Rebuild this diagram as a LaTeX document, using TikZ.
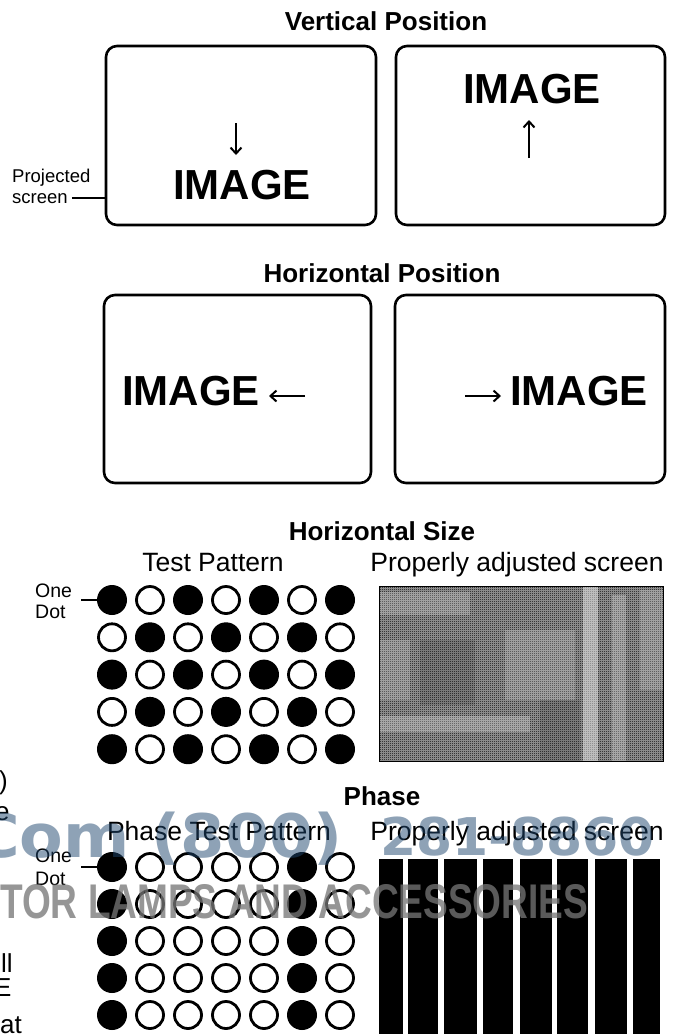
\documentclass[tikz,border=0pt]{standalone}
\usepackage{fontspec}
\setmainfont{Liberation Sans}
\newfontfamily\wmfont{DejaVu Sans}
\usetikzlibrary{arrows.meta,patterns}
\definecolor{wmblue}{RGB}{30,70,110}
\definecolor{wmgray}{RGB}{118,118,118}
\pgfdeclarepatternformonly{dither}{\pgfqpoint{0pt}{0pt}}{\pgfqpoint{2pt}{2pt}}{\pgfqpoint{2pt}{2pt}}{%
  \pgfpathrectangle{\pgfqpoint{0pt}{0pt}}{\pgfqpoint{1pt}{1pt}}%
  \pgfpathrectangle{\pgfqpoint{1pt}{1pt}}{\pgfqpoint{1pt}{1pt}}%
  \pgfusepath{fill}}
\begin{document}
\begin{tikzpicture}[x=1pt,y=-1pt,
  title/.style={font=\fontsize{26}{30}\selectfont\bfseries, anchor=base, inner sep=0pt},
  sub/.style={font=\fontsize{26.5}{30}\selectfont, anchor=base, inner sep=0pt},
  lbl/.style={font=\fontsize{19.5}{22}\selectfont, anchor=base west, inner sep=0pt},
  plbl/.style={font=\fontsize{18.5}{21}\selectfont, anchor=base west, inner sep=0pt},
  img/.style={font=\fontsize{42}{46}\selectfont\bfseries, inner sep=0pt},
  screenbox/.style={draw, line width=2.6pt, rounded corners=11pt, inner sep=0pt},
  varrow/.style={line width=2pt, -{Straight Barb[length=6pt,width=11pt,line width=2pt]}},
  leader/.style={line width=1.3pt},
  dot0/.style={circle, fill=black, minimum size=30pt, inner sep=0pt},
  dot1/.style={circle, draw=black, fill=white, line width=2.8pt, minimum size=27pt, inner sep=0pt},
  frag/.style={font=\fontsize{26}{30}\selectfont, anchor=base west, inner sep=0pt},
  wm/.style={inner sep=0pt, text=wmblue, text opacity=0.5, font=\wmfont\bfseries},
]
\useasboundingbox (0,0) rectangle (679,1034);

% ---------- Vertical Position ----------
\node[title] (tvp) at (386,30) {Vertical Position};
\node[screenbox, minimum width=270pt, minimum height=179pt] (vb1) at (241,135.5) {};
\node[screenbox, minimum width=269pt, minimum height=179pt] (vb2) at (530.5,135.5) {};
\node[img, anchor=base] (vi1) at (242,199) {IMAGE};
\coordinate (va1s) at (236,123);
\coordinate (va1e) at (236,155);
\draw[varrow] (va1s) -- (va1e);
\node[img, anchor=base] (vi2) at (532,103) {IMAGE};
\coordinate (va2s) at (529,158);
\coordinate (va2e) at (529,120);
\draw[varrow] (va2s) -- (va2e);
\node[plbl] (proj) at (12,182) {Projected};
\node[plbl] (scr) at (12,203) {screen};
\coordinate (scrend) at ([xshift=4pt,yshift=5pt]scr.base east);
\draw[leader] (scrend) -- (scrend -| vb1.west);

% ---------- Horizontal Position ----------
\node[title] (thp) at (382,282) {Horizontal Position};
\node[screenbox, minimum width=267pt, minimum height=188pt] (hb1) at (237.5,389) {};
\node[screenbox, minimum width=270pt, minimum height=188pt] (hb2) at (530,389) {};
\node[img, anchor=base west] (hi1) at (122,405) {IMAGE};
\coordinate (ha1s) at (305,396);
\coordinate (ha1e) at (269,396);
\draw[varrow] (ha1s) -- (ha1e);
\node[img, anchor=base west] (hi2) at (510,405) {IMAGE};
\coordinate (ha2s) at (465,396);
\coordinate (ha2e) at (501,396);
\draw[varrow] (ha2s) -- (ha2e);

% ---------- Horizontal Size ----------
\node[title] (ths) at (382,540) {Horizontal Size};
\node[sub] (tp1) at (213,571) {Test Pattern};
\node[sub] (pa1) at (517,571) {Properly adjusted screen};
\node[lbl] (one1) at (35,597) {One};
\node[lbl] (dot1l) at (35,618) {Dot};
\foreach \r in {0,...,4} {
  \foreach \c in {0,...,6} {
    \pgfmathtruncatemacro\pp{mod(\r+\c,2)}
    \node[dot\pp] (hs-\r-\c) at (112+38*\c, 600+37.3*\r) {};
  }
}
\coordinate (hsl) at (81,600);
\draw[leader] (hsl) -- (hs-0-0);
% gray screen (dithered)
\node[inner sep=0pt, minimum width=283pt, minimum height=174pt] (gscr) at (521.5,674) {};
\fill[black!38] (gscr.north west) rectangle (gscr.south east);
\fill[pattern=dither, pattern color=black] (gscr.north west) rectangle (gscr.south east);
\fill[white, opacity=0.45] (583,587) rectangle (598,761);
\fill[white, opacity=0.25] (612,595) rectangle (626,761);
\fill[white, opacity=0.25] (380,716) rectangle (530,732);
\fill[white, opacity=0.2] (380,592) rectangle (470,615);
\fill[white, opacity=0.18] (505,630) rectangle (575,700);
\fill[white, opacity=0.2] (640,590) rectangle (663,690);
\fill[white, opacity=0.18] (380,640) rectangle (410,700);
\fill[black, opacity=0.12] (420,640) rectangle (475,705);
\fill[black, opacity=0.12] (540,700) rectangle (580,761);
\draw[line width=1.2pt] (gscr.north west) rectangle (gscr.south east);

% ---------- Phase ----------
\node[title] (tph) at (382,805) {Phase};
\node[sub] (tp2) at (219,840) {Phase Test Pattern};
\node[sub] (pa2) at (517,840) {Properly adjusted screen};
\node[lbl] (one2) at (35,862) {One};
\node[lbl] (dot2l) at (35,885) {Dot};
\foreach \r in {0,...,4} {
  \foreach \c in {0,...,6} {
    \pgfmathtruncatemacro\pp{(\c==0 || \c==5) ? 0 : 1}
    \node[dot\pp] (ph-\r-\c) at (112+38*\c, 867+37*\r) {};
  }
}
\coordinate (phl) at (81,867);
\draw[leader] (phl) -- (ph-0-0);
\foreach \a/\b in {379/403,408/438,444/477,483/513,520/552,557/588,595/627,633/660} {
  \fill[black] (\a,859) rectangle (\b,1040);
}

% ---------- fragments of cropped text ----------
\node[frag] (f1) at (-1,789) {)};
\node[frag] (f2) at (-5,820) {e};
\node[frag] (f3) at (1,972) {ll};
\node[frag] (f4) at (-6,996) {E};
\node[frag] (f5) at (0,1033) {at};

% ---------- watermark ----------
\node[wm, anchor=base east, font=\wmfont\bfseries\fontsize{60}{64}\selectfont] (wm1) at (343,857) {\scalebox{1.06}[1]{Com (800)}};
\node[wm, anchor=base west, font=\wmfont\bfseries\fontsize{52}{56}\selectfont] (wm2) at (380,855) {281-8860};
\node[anchor=north west, inner sep=0pt, text=wmgray, text opacity=0.77] (wm3) at (0,884)
  {\resizebox{588pt}{34pt}{\bfseries TOR LAMPS AND ACCESSORIES}};
\end{tikzpicture}
\end{document}
